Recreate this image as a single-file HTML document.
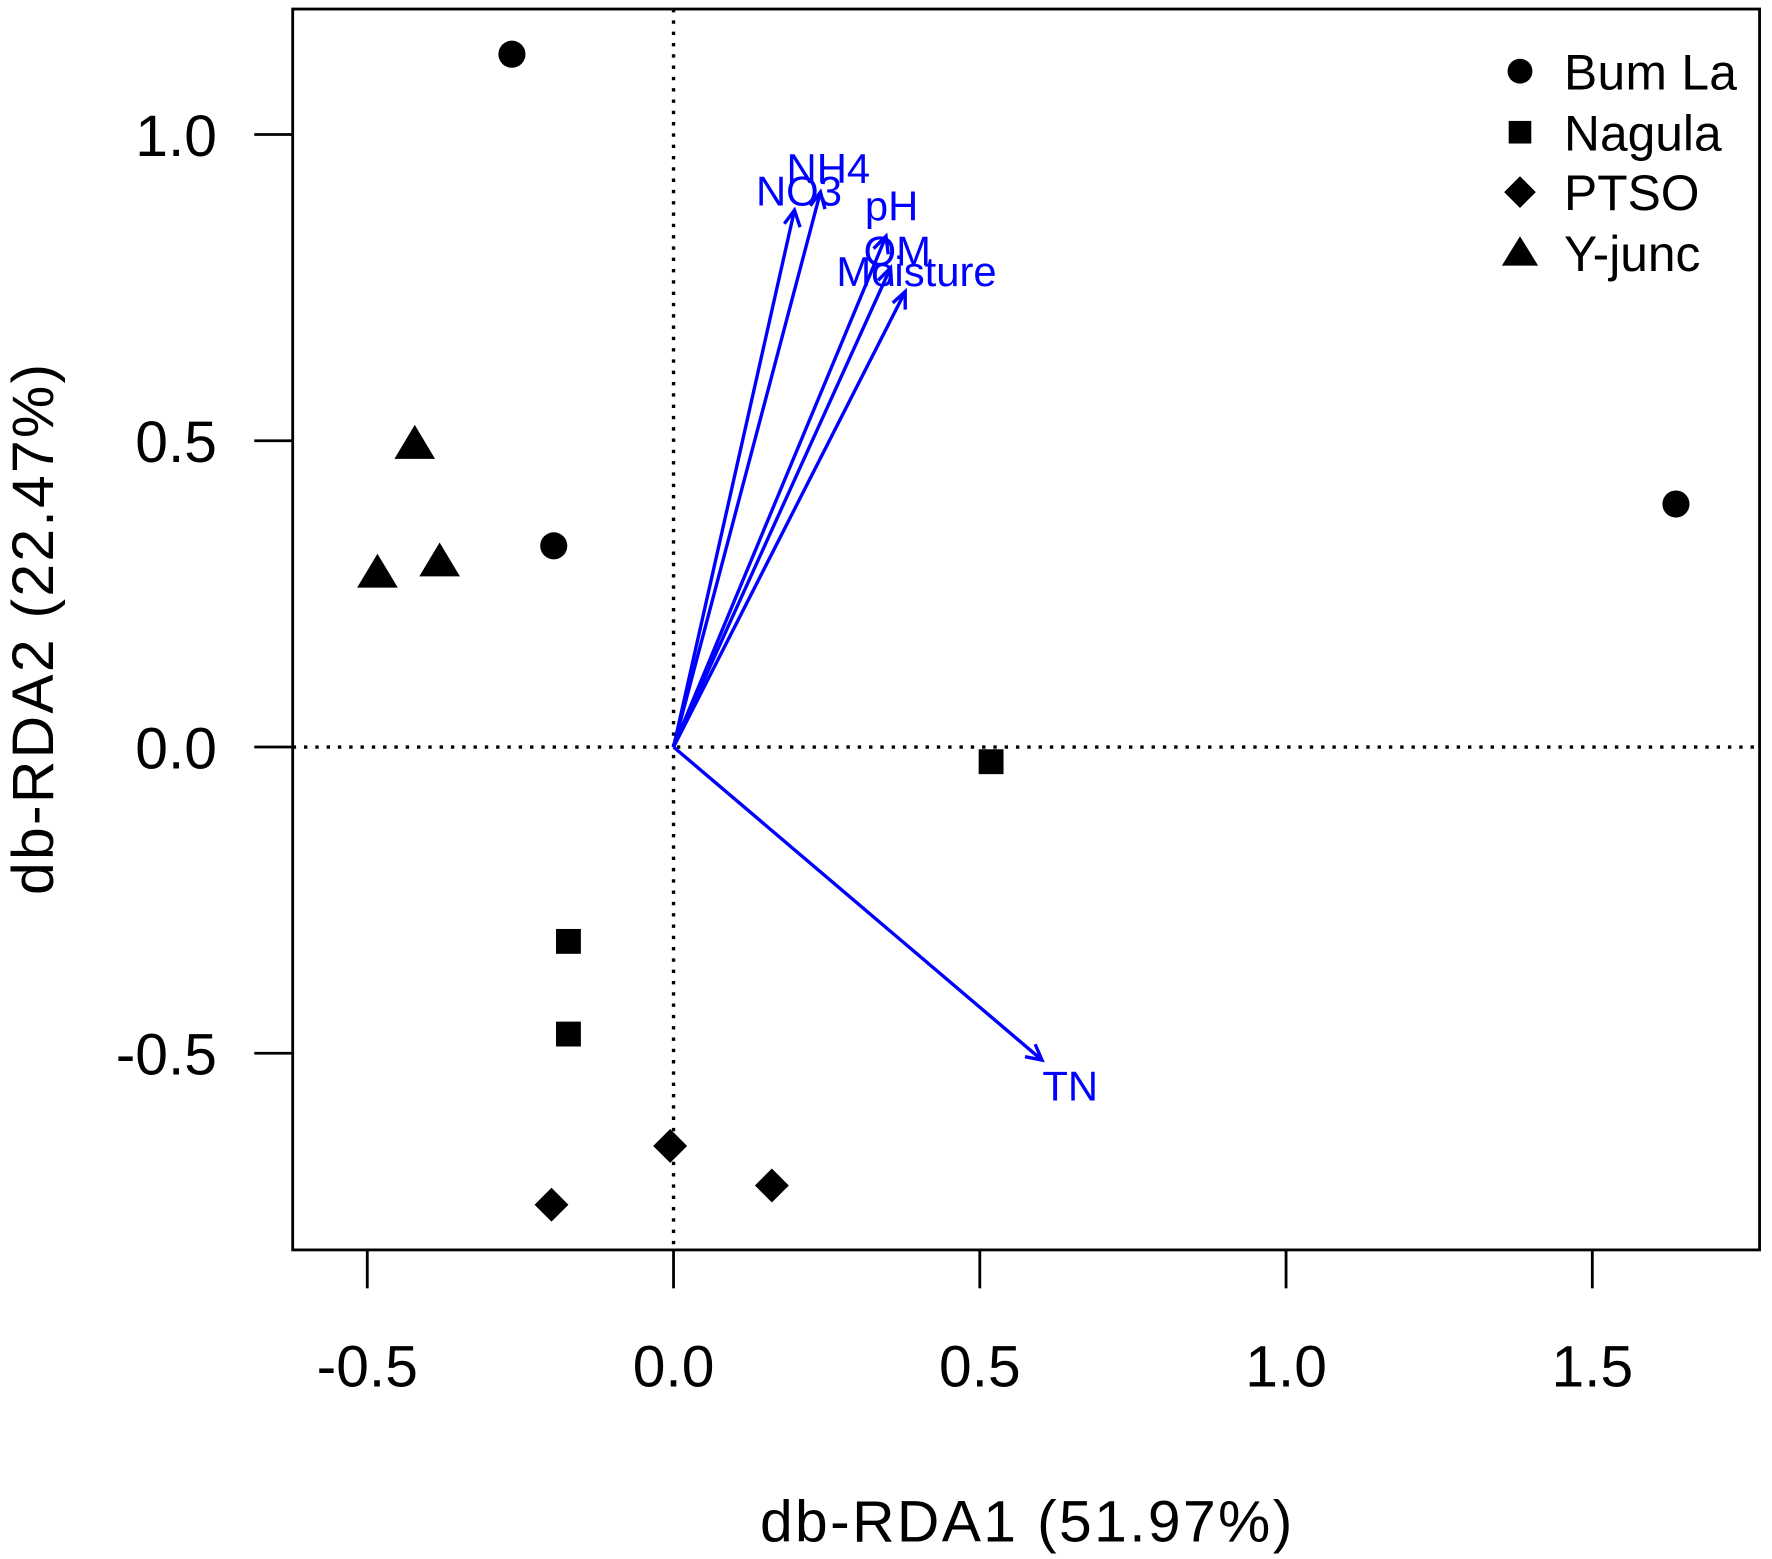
<!DOCTYPE html>
<html><head><meta charset="utf-8"><style>html,body{margin:0;padding:0;background:#fff}svg{display:block}</style></head>
<body>
<svg width="1772" height="1559" viewBox="0 0 1568 1379.5" preserveAspectRatio="none" xmlns="http://www.w3.org/2000/svg" font-family="Liberation Sans, Arial, sans-serif">
<rect width="1568" height="1379.5" fill="#fff"/>
<line x1="596" y1="8" x2="596" y2="1106" stroke="#000" stroke-width="3" stroke-dasharray="3,7"/>
<line x1="259" y1="661" x2="1557" y2="661" stroke="#000" stroke-width="3" stroke-dasharray="3,7"/>
<rect x="259" y="8" width="1298" height="1098" fill="none" stroke="#000" stroke-width="2.5"/>
<g stroke="#000" stroke-width="2.5">
<line x1="325" y1="1106" x2="325" y2="1140"/><line x1="596" y1="1106" x2="596" y2="1140"/><line x1="867" y1="1106" x2="867" y2="1140"/><line x1="1138" y1="1106" x2="1138" y2="1140"/><line x1="1409" y1="1106" x2="1409" y2="1140"/>
<line x1="259" y1="119" x2="225" y2="119"/><line x1="259" y1="390" x2="225" y2="390"/><line x1="259" y1="661" x2="225" y2="661"/><line x1="259" y1="932" x2="225" y2="932"/>
</g>
<g font-size="52" fill="#000" text-anchor="middle">
<text x="325" y="1227">-0.5</text><text x="596" y="1227">0.0</text><text x="867" y="1227">0.5</text><text x="1138" y="1227">1.0</text><text x="1409" y="1227">1.5</text>
</g>
<g font-size="52" fill="#000" text-anchor="end">
<text x="192" y="138">1.0</text><text x="192" y="409">0.5</text><text x="192" y="680">0.0</text><text x="192" y="951">-0.5</text>
</g>
<text x="908" y="1364" font-size="52" text-anchor="middle" textLength="471">db-RDA1 (51.97%)</text>
<text transform="translate(47,557) rotate(-90)" font-size="52" text-anchor="middle" textLength="470">db-RDA2 (22.47%)</text>
<g stroke="#0000ff" stroke-width="3" fill="none">
<line x1="596" y1="661" x2="703" y2="186"/><polyline points="694,198 703,186 708,201"/>
<line x1="596" y1="661" x2="726" y2="170"/><polyline points="717,182 726,170 730,185"/>
<line x1="596" y1="661" x2="784" y2="209"/><polyline points="773,220 784,209 786,225"/>
<line x1="596" y1="661" x2="788" y2="237"/><polyline points="777,248 788,237 789,253"/>
<line x1="596" y1="661" x2="801" y2="258"/><polyline points="790,268 801,258 801,274"/>
<line x1="596" y1="661" x2="922" y2="938"/><polyline points="907,935 922,938 916,924"/>
</g>
<g font-size="37" fill="#0000ff" text-anchor="middle">
<text x="733" y="162">NH4</text><text x="707" y="182">NO3</text><text x="789" y="195">pH</text><text x="794" y="235">OM</text><text x="811" y="253">Moisture</text><text x="947" y="974">TN</text>
</g>
<g fill="#000">
<circle cx="453" cy="48" r="12"/><circle cx="490" cy="483" r="12"/><circle cx="1483" cy="446" r="12"/>
<rect x="866" y="663" width="22" height="22"/><rect x="492" y="822" width="22" height="22"/><rect x="492" y="904" width="22" height="22"/>
<polygon points="593,999 608,1014 593,1029 578,1014"/><polygon points="683,1034 698,1049 683,1064 668,1049"/><polygon points="488,1051 503,1066 488,1081 473,1066"/>
<polygon points="367,376 385,406 349,406"/><polygon points="334,490 352,520 316,520"/><polygon points="389,480 407,510 371,510"/>
<circle cx="1345" cy="63" r="11"/><rect x="1335" y="107" width="20" height="20"/><polygon points="1345,156 1359,170 1345,184 1331,170"/><polygon points="1345,209 1361,235 1329,235"/>
</g>
<g font-size="44" fill="#000">
<text x="1384" y="79" textLength="153">Bum La</text><text x="1384" y="133">Nagula</text><text x="1384" y="186">PTSO</text><text x="1384" y="240">Y-junc</text>
</g>
</svg>
</body></html>
